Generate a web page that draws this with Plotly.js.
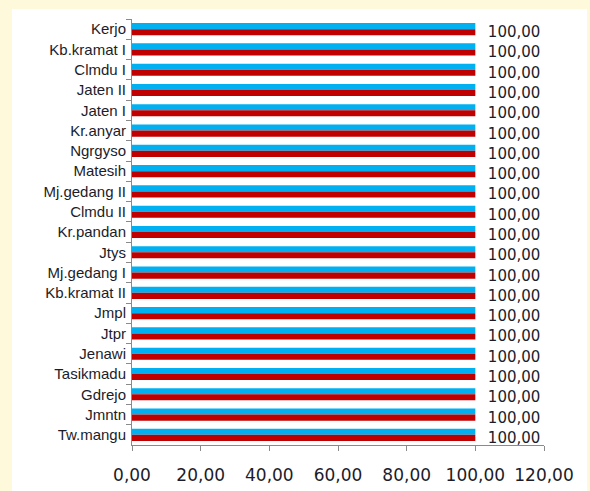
<!DOCTYPE html>
<html>
<head>
<meta charset="utf-8">
<script src="https://cdn.plot.ly/plotly-3.0.1.min.js"></script>
<style>
  html, body { margin: 0; padding: 0; background: #FFF9DC; width: 590px; height: 491px; overflow: hidden; }
  #chart { position: absolute; left: 12px; top: 9px; width: 575px; height: 482px; }
</style>
</head>
<body>
<div id="chart"></div>
<script>
// Categories, listed top to bottom as in the chart
const categories = [
  "Kerjo", "Kb.kramat I", "Clmdu I", "Jaten II", "Jaten I", "Kr.anyar", "Ngrgyso",
  "Matesih", "Mj.gedang II", "Clmdu II", "Kr.pandan", "Jtys", "Mj.gedang I",
  "Kb.kramat II", "Jmpl", "Jtpr", "Jenawi", "Tasikmadu", "Gdrejo", "Jmntn", "Tw.mangu"
];
// Blue series (upper bar of each pair)
const seriesBlue = [100, 100, 100, 100, 100, 100, 100, 100, 100, 100, 100,
                    100, 100, 100, 100, 100, 100, 100, 100, 100, 100];
// Red series (lower bar of each pair, labelled)
const seriesRed = [100, 100, 100, 100, 100, 100, 100, 100, 100, 100, 100,
                   100, 100, 100, 100, 100, 100, 100, 100, 100, 100];
const xTicks = [0, 20, 40, 60, 80, 100, 120];

const textColor = "#1c1c2a";
const axisColor = "#8a8a8a";

const traces = [
  {
    type: "bar", orientation: "h", name: "Series 1",
    y: categories, x: seriesBlue,
    marker: { color: "#00B0F0", line: { width: 0 } },
    hoverinfo: "x+y"
  },
  {
    type: "bar", orientation: "h", name: "Series 2",
    y: categories, x: seriesRed,
    marker: { color: "#C00000", line: { width: 0 } },
    texttemplate: "\u00a0\u00a0%{x:.2f}",
    textposition: "outside",
    constraintext: "none",
    cliponaxis: false,
    textfont: { family: "DejaVu Sans", size: 15, color: textColor },
    hoverinfo: "x+y"
  }
];

const layout = {
  width: 575, height: 482,
  margin: { l: 120, r: 43, t: 10, b: 46 },
  paper_bgcolor: "#FFFFFF",
  plot_bgcolor: "#FFFFFF",
  separators: ",.",
  showlegend: false,
  barmode: "group",
  bargap: 0.4,
  bargroupgap: 0,
  xaxis: {
    range: [0, 120],
    tickvals: xTicks,
    tickformat: ".2f",
    showgrid: false,
    zeroline: false,
    showline: true, linecolor: axisColor, linewidth: 1,
    ticks: "outside", ticklen: 5, tickcolor: axisColor,
    ticklabelstandoff: 10,
    tickfont: { family: "DejaVu Sans", size: 17, color: textColor },
    fixedrange: true
  },
  yaxis: {
    type: "category",
    autorange: "reversed",
    showgrid: false,
    zeroline: false,
    showline: true, linecolor: axisColor, linewidth: 1,
    ticks: "outside", ticklen: 5, tickcolor: axisColor,
    tickson: "boundaries",
    ticklabelstandoff: 2,
    tickfont: { family: "Liberation Sans", size: 15, color: textColor },
    fixedrange: true
  },
  font: { family: "DejaVu Sans", color: textColor }
};

Plotly.newPlot("chart", traces, layout, { displayModeBar: false, staticPlot: true });
</script>
</body>
</html>
